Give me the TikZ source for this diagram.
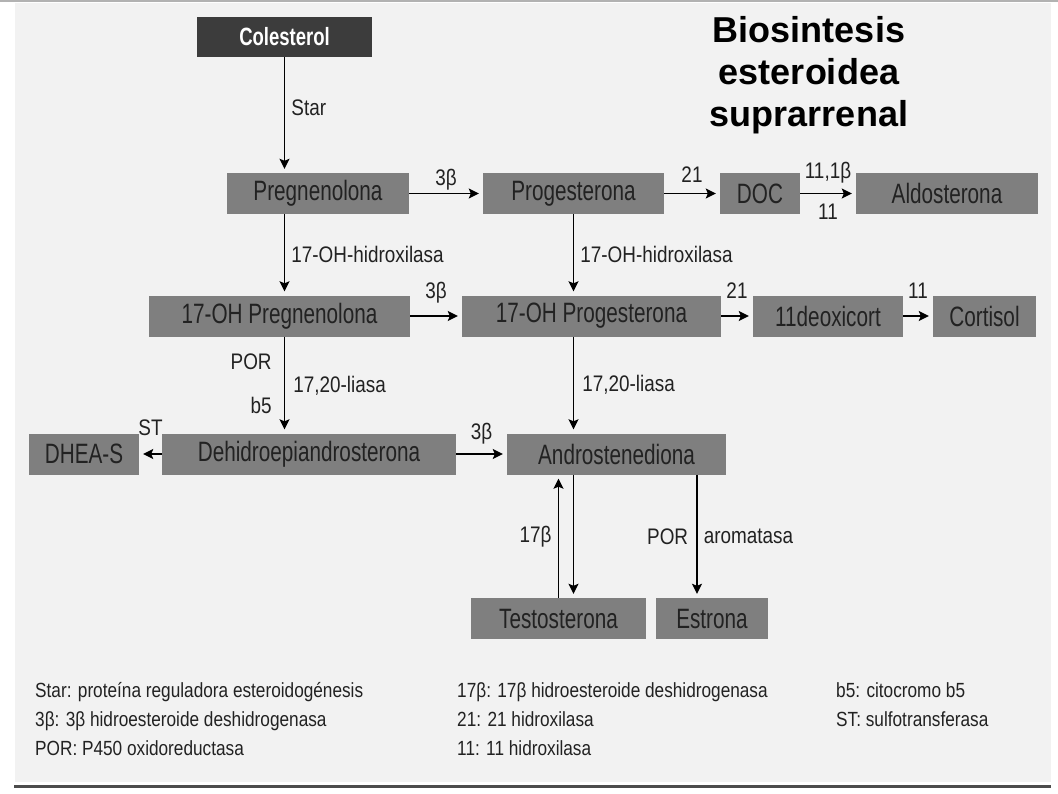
\documentclass[tikz,border=0pt]{standalone}
\usepackage{fontspec}
\setmainfont{Liberation Sans}[FakeStretch=0.84]
\newfontfamily\boxfont{Liberation Sans}[FakeStretch=0.74]
\newfontfamily\titlefont{Liberation Sans}
\usetikzlibrary{calc,arrows.meta}

\definecolor{panel}{HTML}{F2F2F2}
\definecolor{boxgray}{HTML}{7F7F7F}
\definecolor{boxdark}{HTML}{3C3C3C}
\definecolor{ink}{HTML}{222222}

\begin{document}
\begin{tikzpicture}[x=1pt,y=-1pt,
  box/.style={fill=boxgray,text=ink,inner sep=0pt,minimum height=41pt,font=\boxfont\fontsize{28}{28}\selectfont},
  lab/.style={text=ink,inner sep=0pt,font=\fontsize{22.5}{22.5}\selectfont},
  up/.style={anchor=base,yshift=#1},
  leg/.style={text=ink,inner sep=0pt,anchor=base west,font=\fontsize{20.5}{20.5}\selectfont},
  conn/.style={-{Stealth[length=10pt,width=10pt,inset=2pt]},line width=1.8pt,shorten >=4pt}]
  \useasboundingbox (0,0) rectangle (1058,793);
  \fill[panel] (15,3) rectangle (1051,782);
  \draw[gray!60,line width=1.5pt] (0,1) -- (1058,1);
  \draw[black!70,line width=3pt] (14,786) -- (1051,786);

  % title
  \node[font=\titlefont\fontsize{36}{42}\bfseries\selectfont,align=center] (title) at (809,75) {Biosintesis\\esteroidea\\suprarrenal};

  % steroids
  \node[box,fill=boxdark,text=white,minimum width=175pt,minimum height=40pt,font=\boxfont\fontsize{25}{25}\bfseries\selectfont] (col) at (284.5,37) {Colesterol};
  \node[box,minimum width=182pt] (preg) at (318,193.5) {Pregnenolona};
  \node[box,minimum width=181pt] (prog) at (573.5,193.5) {Progesterona};
  \node[box,minimum width=80pt] (doc) at (760,193.5) {DOC};
  \node[box,minimum width=182pt] (aldo) at (947,193.5) {Aldosterona};
  \node[box,minimum width=261pt] (ohpreg) at (279.5,316) {17-OH Pregnenolona};
  \node[box,minimum width=259pt] (ohprog) at (591.5,316) {17-OH Progesterona};
  \node[box,minimum width=150pt] (deox) at (828,316) {11deoxicort};
  \node[box,minimum width=103pt] (cort) at (984.5,316) {Cortisol};
  \node[box,minimum width=110pt] (dheas) at (84,454) {DHEA-S};
  \node[box,minimum width=294pt] (dhea) at (309,454) {Dehidroepiandrosterona};
  \node[box,minimum width=219pt] (andro) at (616.5,454) {Androstenediona};
  \node[box,minimum width=175pt] (testo) at (558.5,618.5) {Testosterona};
  \node[box,minimum width=112pt] (estr) at (712,618.5) {Estrona};

  % enzymes
  \draw[conn] (col.south) -- (col.south |- preg.north) node[lab,pos=0.44,right=6pt] {Star};
  \draw[conn] (preg) -- (prog) node[lab,midway,up=8.5pt] {3β};
  \draw[conn] (prog) -- (doc) node[lab,midway,up=11.5pt] {21};
  \draw[conn] (doc) -- (aldo) node[lab,midway,up=15pt] {11,1β} node[lab,midway,up=-26pt] {11};
  \draw[conn] (col.south |- preg.south) -- (col.south |- ohpreg.north) node[lab,midway,right=6pt] {17-OH-hidroxilasa};
  \draw[conn] (prog.south) -- (prog.south |- ohprog.north) node[lab,midway,right=6pt] {17-OH-hidroxilasa};
  \draw[conn] (ohpreg) -- (ohprog) node[lab,midway,up=18pt] {3β};
  \draw[conn] (ohprog) -- (deox) node[lab,midway,up=18pt] {21};
  \draw[conn] (deox) -- (cort) node[lab,midway,up=18pt] {11};
  \draw[conn] (col.south |- ohpreg.south) -- (col.south |- dhea.north)
    node[lab,pos=0.26,left=12pt] {POR} node[lab,pos=0.51,right=8pt] {17,20-liasa} node[lab,pos=0.71,left=12pt] {b5};
  \draw[conn] (prog.south |- ohprog.south) -- (prog.south |- andro.north) node[lab,midway,right=8pt] {17,20-liasa};
  \draw[conn] (dhea) -- (dheas) node[lab,midway,up=19pt] {ST};
  \draw[conn] (dhea) -- (andro) node[lab,midway,up=15pt] {3β};
  \draw[conn] (prog.south |- andro.south) -- (prog.south |- testo.north);
  \draw[conn] (testo.north) -- (testo.north |- andro.south) node[lab,midway,left=6pt] {17β};
  \draw[conn] ([xshift=-15pt]estr.north |- andro.south) -- ([xshift=-15pt]estr.north)
    node[lab,midway,left=8pt] {POR} node[lab,midway,right=6pt] {aromatasa};

  % legend
  \node[leg] (s1) at (35,697) {Star: proteína reguladora esteroidogénesis};
  \node[leg] (s2) at (35,726) {3β: 3β hidroesteroide deshidrogenasa};
  \node[leg] (s3) at (35,755) {POR: P450 oxidoreductasa};
  \node[leg] (s4) at (457,697) {17β: 17β hidroesteroide deshidrogenasa};
  \node[leg] (s5) at (457,726) {21: 21 hidroxilasa};
  \node[leg] (s6) at (457,755) {11: 11 hidroxilasa};
  \node[leg] (s7) at (836,697) {b5: citocromo b5};
  \node[leg] (s8) at (836,726) {ST: sulfotransferasa};
\end{tikzpicture}
\end{document}
